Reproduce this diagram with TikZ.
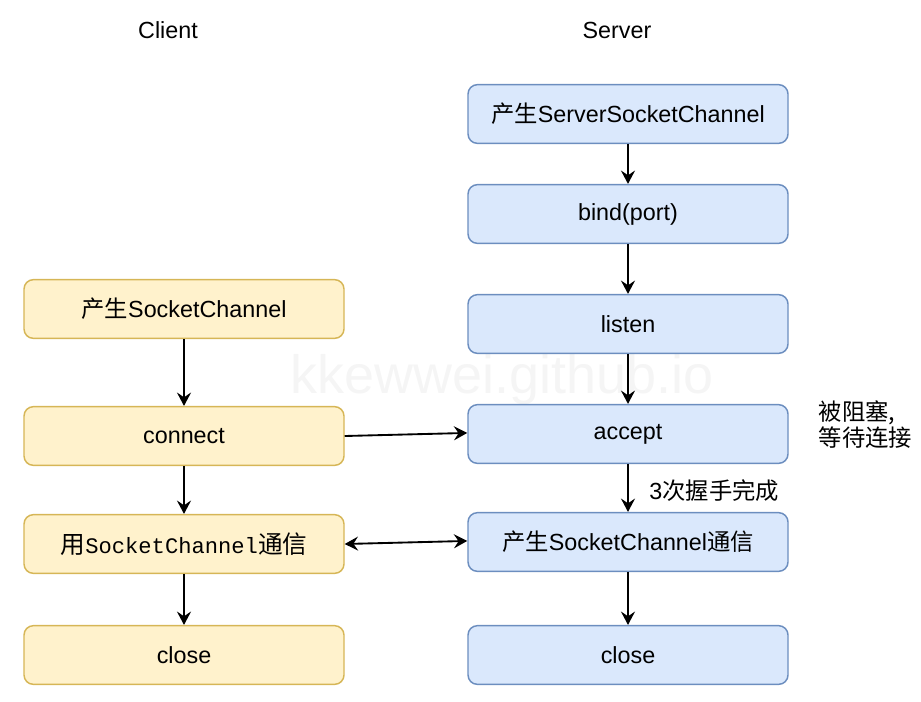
\documentclass[tikz,border=0pt]{standalone}
\usepackage{fontspec}
\setmainfont{Liberation Sans}
\setmonofont{Liberation Mono}
\newfontfamily\cjk{Noto Sans CJK SC}
\usetikzlibrary{arrows.meta}
\definecolor{clifill}{HTML}{FFF2CC}
\definecolor{clidraw}{HTML}{D6B656}
\definecolor{srvfill}{HTML}{DAE8FC}
\definecolor{srvdraw}{HTML}{6C8EBF}
\tikzset{
  clibox/.style={rectangle, rounded corners=7pt, draw=clidraw, fill=clifill, line width=1.1pt,
    minimum width=240pt, minimum height=44pt, inner sep=0pt},
  srvbox/.style={rectangle, rounded corners=7pt, draw=srvdraw, fill=srvfill, line width=1.1pt,
    minimum width=240pt, minimum height=44pt, inner sep=0pt},
  flowtip/.tip={Stealth[length=10pt,width=10.5pt,inset=3.5pt]},
  flow/.style={-flowtip, line width=1.4pt},
}
\begin{document}
\begin{tikzpicture}[x=0.75pt, y=-0.75pt, font=\fontsize{17.5}{21}\selectfont]
    \useasboundingbox (0,0) rectangle (921,701);

    % Filigrane
    \node[text=black!4, font=\fontsize{40.5}{48}\selectfont] (wm) at (502, 380) {kkewwei.github.io};

    % Titres des colonnes
    \node (client) at (168, 30) {Client};
    \node (server) at (617, 30) {Server};

    % Colonne client
    \node[clibox] (C1) at (184, 309) {{\cjk 产生}SocketChannel};
    \node[clibox] (C2) at (184, 436) {connect};
    \node[clibox] (C3) at (184, 544) {{\cjk\fontsize{18.5}{21}\selectfont 用}{\ttfamily\fontsize{16.6}{18}\selectfont SocketChannel}{\cjk\fontsize{18.5}{21}\selectfont 通信}};
    \node[clibox] (C4) at (184, 655) {close};

    % Colonne serveur
    \node[srvbox] (S1) at (628, 114) {{\cjk 产生}ServerSocketChannel};
    \node[srvbox] (S2) at (628, 214) {bind(port)};
    \node[srvbox] (S3) at (628, 324) {listen};
    \node[srvbox] (S4) at (628, 434) {accept};
    \node[srvbox] (S5) at (628, 542) {{\cjk 产生}SocketChannel{\cjk 通信}};
    \node[srvbox] (S6) at (628, 655) {close};

    % Remarques
    \node[anchor=west, align=left, font=\fontsize{17.5}{19.5}\selectfont\cjk] (block) at (814, 425) {被阻塞,\\等待连接};

    % Flèches client
    \draw[flow] (C1) -- (C2);
    \draw[flow] (C2) -- (C3);
    \draw[flow] (C3) -- (C4);

    % Flèches serveur
    \draw[flow] (S1) -- (S2);
    \draw[flow] (S2) -- (S3);
    \draw[flow] (S3) -- (S4);
    \draw[flow] (S4) -- (S5) node[midway, right=12pt, yshift=-2pt] {3{\cjk 次握手完成}};
    \draw[flow] (S5) -- (S6);

    % Échanges client / serveur
    \draw[flow] (C2.east) -- ([yshift=0.8pt]S4.west);
    \draw[flow, flowtip-flowtip] (C3.east) -- ([yshift=0.8pt]S5.west);

\end{tikzpicture}
\end{document}
